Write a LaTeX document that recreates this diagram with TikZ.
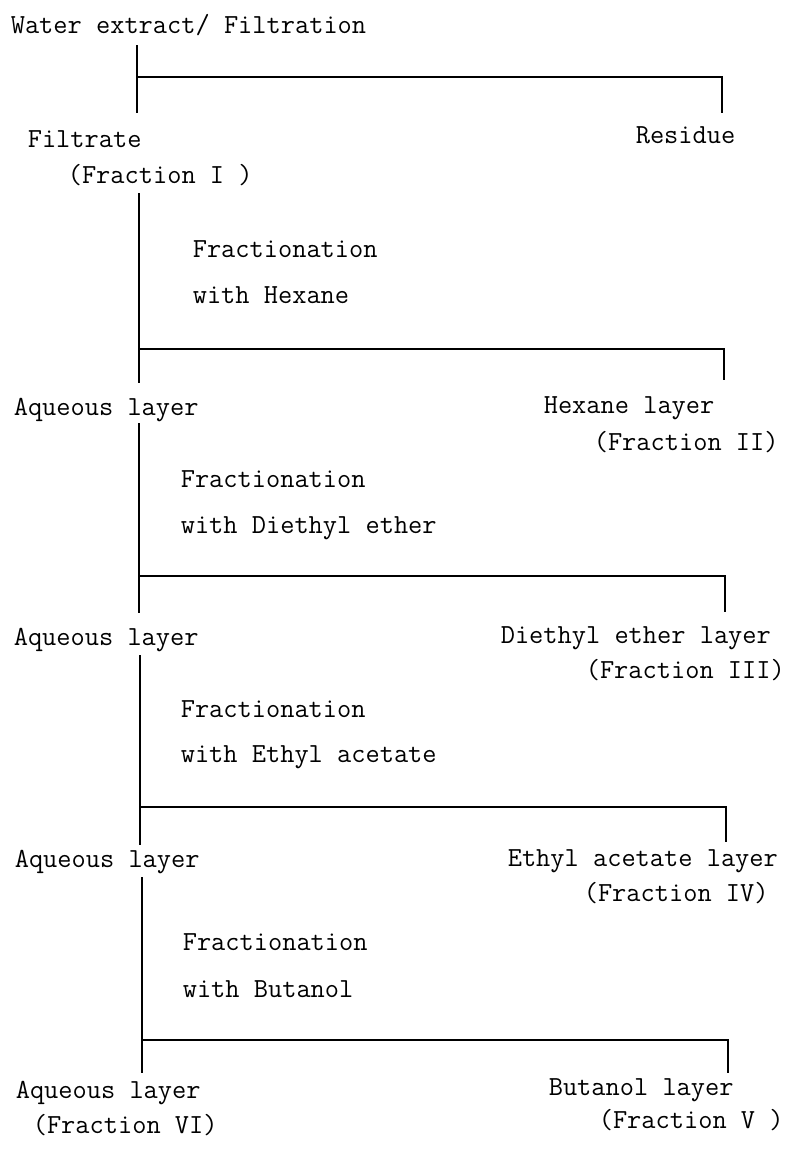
\documentclass[tikz,border=0pt]{standalone}
\begin{document}
\begin{tikzpicture}[x=0.5pt,y=-0.5pt,line width=0.8pt,
  txt/.style={font=\fontsize{13.8}{16}\selectfont\ttfamily,anchor=base west,inner sep=0pt}]
\useasboundingbox (0,0) rectangle (812,1151);
% texts
\node[txt] (water) at (10,33) {Water extract/ Filtration};
\node[txt] (filtrate) at (27,147) {Filtrate};
\node[txt] (fr1) at (67,183) {(Fraction I )};
\node[txt] (residue) at (635,143) {Residue};
\node[txt] (op1a) at (192,257) {Fractionation};
\node[txt] (op1b) at (192,303) {with Hexane};
\node[txt] (aq1) at (13,415) {Aqueous layer};
\node[txt] (hex) at (543,413) {Hexane layer};
\node[txt] (fr2) at (593,450) {(Fraction II)};
\node[txt] (op2a) at (180,487) {Fractionation};
\node[txt] (op2b) at (180,533) {with Diethyl ether};
\node[txt] (aq2) at (13,645) {Aqueous layer};
\node[txt] (die) at (500,643) {Diethyl ether layer};
\node[txt] (fr3) at (585,678) {(Fraction III)};
\node[txt] (op3a) at (180,717) {Fractionation};
\node[txt] (op3b) at (180,762) {with Ethyl acetate};
\node[txt] (aq3) at (14,867) {Aqueous layer};
\node[txt] (eth) at (507,866) {Ethyl acetate layer};
\node[txt] (fr4) at (583,901) {(Fraction IV)};
\node[txt] (op4a) at (182,950) {Fractionation};
\node[txt] (op4b) at (182,997) {with Butanol};
\node[txt] (aq4) at (15,1098) {Aqueous layer};
\node[txt] (fr6) at (32,1133) {(Fraction VI)};
\node[txt] (but) at (548,1095) {Butanol layer};
\node[txt] (fr5) at (598,1128) {(Fraction V )};
% connector points
\coordinate (t0) at (137,45);  \coordinate (j0) at (137,77);  \coordinate (e0) at (137,113);
\coordinate (r0) at (722,77);  \coordinate (s0) at (722,113);
\coordinate (t1) at (139,193); \coordinate (j1) at (139,349); \coordinate (e1) at (139,383);
\coordinate (r1) at (724,349); \coordinate (s1) at (724,380);
\coordinate (t2) at (139,423); \coordinate (j2) at (139,576); \coordinate (e2) at (139,613);
\coordinate (r2) at (725,576); \coordinate (s2) at (725,612);
\coordinate (t3) at (140,655); \coordinate (j3) at (140,807); \coordinate (e3) at (140,845);
\coordinate (r3) at (726,807); \coordinate (s3) at (726,842);
\coordinate (t4) at (142,877); \coordinate (j4) at (142,1040); \coordinate (e4) at (142,1073);
\coordinate (r4) at (728,1040); \coordinate (s4) at (728,1073);
% connectors
\draw (t0) -- (e0); \draw (j0) -- (r0) -- (s0);
\draw (t1) -- (e1); \draw (j1) -- (r1) -- (s1);
\draw (t2) -- (e2); \draw (j2) -- (r2) -- (s2);
\draw (t3) -- (e3); \draw (j3) -- (r3) -- (s3);
\draw (t4) -- (e4); \draw (j4) -- (r4) -- (s4);
\end{tikzpicture}
\end{document}
